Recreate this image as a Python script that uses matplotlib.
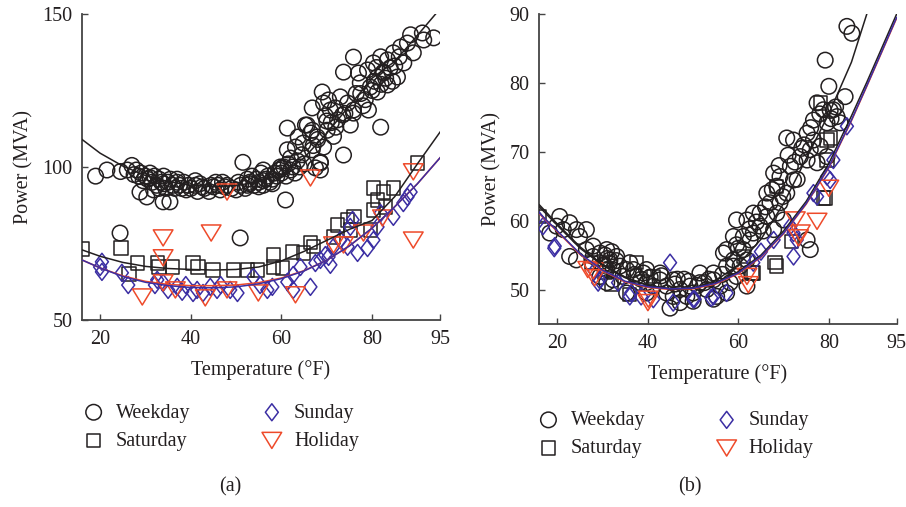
import matplotlib
matplotlib.use("Agg")
import matplotlib.pyplot as plt
from matplotlib.path import Path
import numpy as np

plt.rcParams['font.family'] = ['Liberation Serif', 'DejaVu Serif']

# ---------------- Panel (a) data ----------------
a_weekday_x = [19, 21.5, 24.5, 26, 27, 28, 28.5, 29, 30, 30.5, 31, 31.5, 32, 32.5, 33, 33.5, 34, 34.5, 35, 35.5,
               36, 36.5, 37, 37.5, 38, 39, 39.5, 40, 41, 41.5, 42, 43, 44, 44.5, 45, 46, 46.5, 47, 48, 49,
               50, 50.5, 51, 51.5, 52, 52.5, 53, 53.5, 54, 54.5, 55, 55.5, 56, 56.5, 57, 57.5, 58, 58.5, 59, 59.5,
               60, 60.5, 61, 61.5, 62, 62.5, 63, 63.5, 64, 65,
               28.8, 30.3, 31.8, 33.9, 35.4, 60.9, 24.4, 50.9,
               75.9, 73.7, 69.0, 70.4, 66.8, 69.7, 71.9, 73.5, 75.9, 75.2, 79.2, 81.9,
               61.3, 65.7, 63.7, 66.4, 67.9, 70.1, 64.8, 63.1, 66.8, 69.3, 61.3, 62.0, 73.7, 68.6, 67.5, 59.8, 56.0,
               79.0, 80.3, 81.9, 83.4, 81.2, 82.5, 84.0, 84.7, 86.3, 87.8, 89.1, 87.0, 85.6, 83.4, 79.6, 77.4, 77.0,
               81.2, 91.4, 93.6, 91.1, 88.5,
               70.8, 72.4, 74.6, 73.0, 75.9, 69.3, 66.8, 65.3, 68.6, 68.6, 71.5, 77.5, 78.5, 80.5, 82.5, 85.0,
               29.5, 33.0, 37.0, 41.0, 45.5, 52.5, 55.0, 58.0, 67.0, 70.0, 72.0, 78.0, 80.0, 82.0, 84.5, 86.0,
               27.5, 31.0, 34.0, 38.5, 42.5, 47.5, 53.0, 56.0, 60.0, 64.5, 68.0, 71.0, 74.0, 76.5, 81.0, 83.0]
a_weekday_y = [97, 99, 98.5, 99, 100.5, 99, 97, 98, 97, 96, 98, 95, 97, 94, 96, 95, 97, 93, 95, 96,
               94, 93, 95, 94, 93, 92.5, 94, 93, 94, 92, 94.5, 93, 92, 94, 93.5, 94, 92.5, 95, 94, 93,
               92.5, 95, 94, 101.5, 93, 96, 95, 97, 94, 96, 95, 98, 94, 96, 97, 95, 96, 98, 97, 99,
               98, 100, 97, 101, 99, 100, 98, 102, 100, 101,
               91.8, 90.2, 92.5, 88.6, 88.6, 89.2, 78.4, 76.8,
               135.9, 131.0, 124.5, 121.9, 119.3, 116.7, 119.3, 117.0, 117.6, 113.7, 118.6, 113.0,
               112.7, 113.7, 109.8, 111.1, 109.8, 112.0, 107.8, 106.5, 105.6, 106.5, 105.6, 102.9, 103.9, 101.6, 99.7, 100.0, 99.0,
               131.7, 134.0, 136.0, 135.0, 129.4, 130.7, 132.4, 137.3, 139.2, 140.5, 137.3, 134.0, 129.4, 126.8, 126.1, 127.5, 130.7,
               124.5, 141.5, 142.2, 143.8, 143.2,
               118.6, 115.4, 120.9, 122.9, 118.6, 120.9, 112.0, 113.7, 99.0, 101.3, 110.0, 124.0, 122.0, 128.0, 131.0, 133.0,
               95.5, 93.0, 96.0, 95.5, 95.0, 94.0, 93.5, 94.5, 107.0, 115.0, 113.0, 120.0, 125.0, 127.0, 128.0, 136.0,
               97.5, 96.5, 94.5, 95.0, 93.5, 93.5, 94.5, 95.5, 99.5, 104.0, 109.0, 114.5, 117.5, 124.0, 132.5, 129.0]

a_saturday_x = [16.0, 24.6, 28.2, 26.4, 32.6, 33.0, 35.9, 40.5, 41.6, 44.9, 49.4, 52.5, 54.7, 58.2, 58.2, 60.2,
                62.4, 64.8, 66.4, 67.1, 72.4, 74.6, 76.0, 75.2, 71.5, 80.3, 82.5, 84.7, 80.3, 81.2, 83.0, 79.6, 90.0]
a_saturday_y = [73.2, 73.5, 68.6, 65.0, 68.6, 67.3, 67.3, 68.6, 67.3, 66.3, 66.3, 66.3, 66.3, 67.3, 71.2, 67.0,
                72.2, 71.9, 75.2, 73.9, 81.0, 82.7, 83.7, 79.4, 77.1, 93.1, 91.8, 93.1, 85.9, 89.2, 86.9, 79.4, 101.3]

a_sunday_x = [20.4, 20.0, 20.4, 24.8, 26.2, 32.1, 33.9, 37.0, 38.1, 40.5, 41.4, 42.7, 44.3, 45.8, 48.7, 50.3,
              53.8, 55.3, 56.9, 58.0, 61.3, 62.6, 64.2, 66.4, 68.6, 70.8, 69.7, 71.5, 73.0, 75.2, 76.8, 79.0,
              80.3, 81.9, 81.2, 84.7, 86.9, 87.8, 88.5, 74.6, 75.7, 35.0, 32.6, 38.9, 46.6, 62.6, 67.5, 70.4]
a_sunday_y = [69.0, 67.3, 65.7, 65.4, 61.4, 61.4, 62.1, 60.8, 59.2, 58.8, 59.8, 58.8, 60.8, 59.8, 59.8, 58.8,
              64.1, 61.4, 59.8, 60.8, 62.4, 64.7, 67.3, 60.8, 69.6, 68.0, 71.2, 73.9, 76.1, 80.4, 71.9, 73.5,
              76.1, 84.9, 80.4, 83.7, 88.2, 90.2, 91.8, 73.9, 82.7, 59.8, 63.1, 61.4, 61.4, 59.8, 68.6, 70.6]

a_holiday_x = [33.9, 44.5, 33.9, 29.3, 33.9, 36.6, 43.2, 48.0, 54.9, 63.1, 66.4, 89.1, 89.1, 82.3, 73.7, 78.1, 48.0, 71.5]
a_holiday_y = [76.8, 78.4, 70.3, 57.5, 62.1, 59.8, 57.2, 59.8, 58.8, 58.2, 96.4, 98.4, 76.1, 83.3, 74.5, 78.4, 91.8, 74.5]

# fitted curves (a)
a_fit_x = [16, 20, 25, 30, 35, 40, 45, 50, 55, 60, 65, 70, 75, 80, 85, 90, 95]
a_fit_weekday = [109, 104.5, 100.3, 97.2, 95.2, 94.0, 93.6, 93.9, 95.2, 97.5, 103, 111, 120, 129, 134.5, 143, 151.7]
a_fit_saturday = [72.9, 70.8, 68.8, 67.5, 66.8, 66.5, 66.3, 66.5, 67.3, 69.3, 72.4, 76.0, 79.6, 82.5, 90.3, 101.0, 111.4]
a_fit_sunday = [69.6, 67.0, 64.2, 62.3, 61.2, 60.6, 60.5, 60.8, 61.8, 63.5, 66.0, 69.5, 74.2, 80.0, 87.0, 94.5, 103.0]
a_fit_holiday = [69.6, 67.0, 64.4, 62.6, 61.6, 61.2, 61.2, 61.4, 62.2, 63.7, 66.1, 69.5, 74.2, 80.0, 87.0, 94.5, 103.0]

# ---------------- Panel (b) data ----------------
b_weekday_x = [84.0, 85.1, 79.2, 80.0, 83.6, 77.4, 78.8, 80.3, 81.0, 81.8, 79.6, 82.5, 76.6,
               70.7, 72.2, 75.2, 76.6, 75.9, 78.1, 79.6, 75.2, 77.4, 73.7,
               71.5, 72.2, 69.2, 67.8, 68.5, 66.3, 70.7, 67.0, 69.2, 64.8, 63.3, 66.3, 68.5, 70.0, 59.6, 61.9,
               64.8, 67.8, 63.3, 61.1, 58.9, 62.6, 59.6, 57.4, 56.7, 61.1, 58.9, 75.9, 75.2,
               20.5, 19.8, 18.3, 21.3, 22.7, 24.2, 26.4, 24.9, 22.7, 24.2, 26.4, 27.9, 29.4, 29.4, 30.9, 31.6,
               33.1, 30.9, 32.3, 33.8, 35.3, 34.5, 36.8, 37.5, 39.0, 38.2, 39.7, 41.2, 42.7, 44.1, 45.6, 44.1,
               45.6, 44.9, 47.1, 48.6, 49.3, 50.0, 51.5, 53.0, 54.5, 56.0, 55.2, 57.4, 58.2, 59.6, 57.4, 58.9,
               60.4, 61.9, 61.9, 47.1, 50.0, 39.7, 35.3, 30.9, 32.3, 29.4, 27.9, 51.5, 54.5, 42.7, 39.7, 36.0,
               54.5, 31.0, 32.0, 30.0, 43.0, 46.5, 48.0, 52.5, 65.5, 69.8, 73.0, 74.0,
               30.5, 31.5, 33.0, 37.0, 38.5, 40.5, 46.0, 49.0, 51.0, 53.5, 56.5, 60.0, 62.5, 64.0, 66.0, 67.5,
               69.0, 71.0, 72.5, 74.5, 76.0, 78.0, 80.5, 81.5]
b_weekday_y = [88.2, 87.2, 83.3, 79.5, 78.0, 77.1, 76.1, 76.0, 76.1, 75.1, 74.2, 74.2, 74.6,
               72.0, 71.7, 72.7, 71.7, 70.3, 70.8, 69.3, 68.8, 68.4, 69.3,
               67.9, 65.9, 66.4, 66.9, 65.0, 64.0, 64.0, 62.6, 62.6, 61.1, 61.1, 60.6, 61.1, 60.1, 60.1, 60.1,
               59.2, 58.7, 58.2, 57.7, 57.7, 57.2, 56.5, 55.8, 55.3, 55.8, 54.3, 55.8, 57.2,
               60.6, 59.2, 58.2, 58.7, 59.7, 58.7, 58.7, 57.7, 54.8, 54.3, 55.8, 54.8, 55.3, 53.9, 55.8, 54.3,
               54.8, 52.9, 52.9, 53.4, 52.9, 51.9, 52.9, 51.9, 52.4, 51.0, 51.0, 50.5, 51.4, 50.5, 51.4, 49.5,
               49.0, 47.3, 50.0, 49.0, 50.5, 49.5, 51.0, 50.0, 51.4, 50.5, 49.0, 49.5, 51.0, 51.9, 53.4, 53.4,
               53.4, 54.3, 50.5, 48.1, 48.3, 49.5, 49.5, 51.0, 51.4, 51.9, 56.3, 52.4, 52.4, 52.4, 52.9, 53.9,
               48.6, 54.5, 55.5, 53.5, 52.0, 51.5, 51.5, 51.0, 58.5, 63.5, 66.0, 70.5,
               55.0, 53.8, 54.2, 52.2, 51.5, 51.8, 50.8, 51.2, 50.6, 51.5, 52.2, 56.0, 58.8, 59.8, 62.0, 64.5,
               68.0, 69.5, 68.5, 71.0, 73.5, 75.5, 74.8, 76.5]

b_saturday_x = [16.0, 27.5, 32.0, 36.0, 37.5, 41.2, 63.3, 68.1, 68.5, 68.5, 79.6, 79.2, 61.1, 80.3, 79.6, 78.8, 78.1, 71.8, 63.0, 30.5]
b_saturday_y = [60.6, 53.9, 50.7, 49.3, 53.9, 51.9, 52.4, 53.9, 53.4, 65.0, 71.7, 63.3, 54.8, 72.0, 68.8, 63.3, 77.1, 57.0, 52.4, 52.5]

b_sunday_x = [15.9, 16.8, 19.4, 29.0, 44.9, 36.0, 41.2, 45.6, 50.0, 54.5, 57.4, 63.3, 72.2, 72.2, 71.5, 76.6,
              80.3, 81.0, 84.0, 67.8, 79.6, 77.4, 72.9, 19.3, 28.2, 29.3, 36.3, 38.5, 50.3, 54.0, 33.4, 65.0]
b_sunday_y = [60.1, 59.2, 56.3, 51.0, 53.9, 49.0, 48.6, 48.1, 48.6, 49.0, 49.5, 53.9, 54.8, 58.2, 59.2, 64.0,
              65.9, 68.8, 73.7, 57.2, 66.4, 63.5, 57.2, 56.0, 52.7, 51.4, 49.5, 49.0, 48.6, 48.8, 51.0, 55.5]

b_holiday_x = [77.4, 80.0, 62.2, 73.3, 72.6, 26.7, 28.2, 40.0, 61.9, 40.1, 27.9, 73.7]
b_holiday_y = [59.9, 64.7, 50.7, 57.5, 60.1, 52.9, 51.7, 48.1, 51.9, 48.6, 52.7, 58.2]

b_fit_x = [16, 20, 25, 30, 35, 40, 45, 50, 55, 60, 65, 70, 75, 80, 85, 88.4, 90, 95]
b_fit_weekday = [62.3, 59.5, 56.2, 53.6, 51.8, 50.6, 50.1, 50.2, 51.3, 53.6, 57.3, 62.5, 69.0, 75.5, 83.0, 90.0, 93.5, 104]
b_fit_saturday = [62.0, 59.3, 56.0, 53.5, 51.7, 50.6, 50.1, 50.2, 51.0, 52.6, 55.0, 58.5, 62.8, 68.3, 75.2, 80.1, 82.5, 90.0]
b_fit_sunday = [61.1, 58.5, 55.2, 52.8, 51.2, 50.4, 50.1, 50.2, 50.9, 52.4, 54.8, 58.2, 62.5, 67.8, 74.6, 79.6, 82.0, 89.5]
b_fit_holiday = [61.0, 58.4, 55.1, 52.7, 51.1, 50.3, 50.0, 50.1, 50.8, 52.3, 54.7, 58.1, 62.4, 67.7, 74.5, 79.5, 81.9, 89.4]

xticks = [20, 40, 60, 80, 95]
a_yticks = [50, 100, 150]
b_yticks = [50, 60, 70, 80, 90]

labels = ['Weekday', 'Saturday', 'Sunday', 'Holiday']

BLACK = '#231f20'
BLUE = '#3b2ea3'
RED = '#ee4a2a'
TXT = '#231f20'
FS = 14.5

diamond = Path([(0, 1), (0.76, 0), (0, -1), (-0.76, 0), (0, 1)],
               [Path.MOVETO, Path.LINETO, Path.LINETO, Path.LINETO, Path.CLOSEPOLY])
tri = Path([(-1, 0.82), (1, 0.82), (0, -0.82), (-1, 0.82)],
           [Path.MOVETO, Path.LINETO, Path.LINETO, Path.CLOSEPOLY])

fig = plt.figure(figsize=(9.06, 5.07), dpi=100)
axa = fig.add_axes([0.0905, 0.369, 0.3952, 0.6034])
axb = fig.add_axes([0.5953, 0.361, 0.3944, 0.6114])


def draw(ax, data, fits, fitx, ylim, yticks):
    (wx, wy), (sx, sy), (ux, uy), (hx, hy) = data
    fw, fs, fu, fh = fits
    lw = 1.1
    h1 = ax.scatter(wx, wy, s=125, marker='o', facecolors='none', edgecolors=BLACK, linewidths=lw, zorder=3)
    h2 = ax.scatter(sx, sy, s=92, marker='s', facecolors='none', edgecolors=BLACK, linewidths=lw, zorder=3)
    h3 = ax.scatter(ux, uy, s=150, marker=diamond, facecolors='none', edgecolors=BLUE, linewidths=lw, zorder=3)
    h4 = ax.scatter(hx, hy, s=200, marker=tri, facecolors='none', edgecolors=RED, linewidths=lw, zorder=3)
    ax.plot(fitx, fh, color=RED, lw=1.1, zorder=4)
    ax.plot(fitx, fw, color=BLACK, lw=1.1, zorder=4)
    ax.plot(fitx, fs, color=BLACK, lw=1.1, zorder=4)
    ax.plot(fitx, fu, color=BLUE, lw=1.1, zorder=4)
    ax.set_xlim(16, 95)
    ax.set_ylim(*ylim)
    ax.set_xticks(xticks)
    ax.set_yticks(yticks)
    for sp in ['top', 'right']:
        ax.spines[sp].set_visible(False)
    for sp in ['left', 'bottom']:
        ax.spines[sp].set_color('#444444')
        ax.spines[sp].set_linewidth(1.3)
    ax.tick_params(direction='in', length=4, width=1, colors='#444444', labelcolor=TXT, labelsize=FS, pad=7)
    ax.set_xlabel('Temperature (°F)', fontsize=FS, color=TXT, labelpad=8)
    ax.set_ylabel('Power (MVA)', fontsize=FS, color=TXT, labelpad=6)
    return [h1, h2, h3, h4]


ha = draw(axa, [(a_weekday_x, a_weekday_y), (a_saturday_x, a_saturday_y), (a_sunday_x, a_sunday_y),
                (a_holiday_x, a_holiday_y)],
          [a_fit_weekday, a_fit_saturday, a_fit_sunday, a_fit_holiday], a_fit_x, (50, 150), a_yticks)
hb = draw(axb, [(b_weekday_x, b_weekday_y), (b_saturday_x, b_saturday_y), (b_sunday_x, b_sunday_y),
                (b_holiday_x, b_holiday_y)],
          [b_fit_weekday, b_fit_saturday, b_fit_sunday, b_fit_holiday], b_fit_x, (45, 90), b_yticks)

for ax, h, anchor in [(axa, ha, (0.07, 0.24)), (axb, hb, (0.572, 0.225))]:
    fig.legend(h, labels, ncol=2, loc='upper left', bbox_to_anchor=anchor, frameon=False,
               fontsize=FS, columnspacing=3.45, handletextpad=0.5, labelspacing=0.45, handlelength=1.2,
               labelcolor=TXT)

fig.text(0.254, 0.03, '(a)', fontsize=FS, color=TXT, ha='center')
fig.text(0.762, 0.03, '(b)', fontsize=FS, color=TXT, ha='center')

fig.savefig('out.png', dpi=100)
